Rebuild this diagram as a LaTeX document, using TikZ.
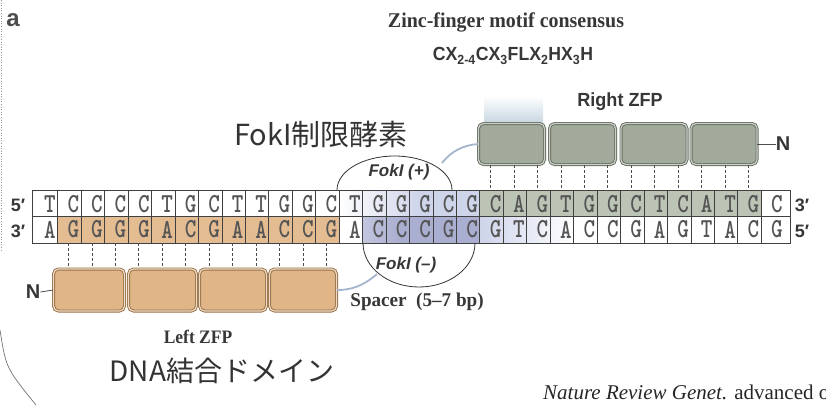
\documentclass[tikz,border=0pt]{standalone}
\usepackage{fontspec}
\setmainfont{Liberation Serif}
\setsansfont{Liberation Sans}
\newfontfamily\cjk{Noto Sans CJK JP}
\newfontfamily\dnafont{lmmonolt10-bold.otf}
\usetikzlibrary{calc}
\definecolor{orfill}{RGB}{228,188,146}
\definecolor{orbox}{RGB}{224,182,136}
\definecolor{orline}{RGB}{150,112,70}
\definecolor{grfill}{RGB}{188,196,182}
\definecolor{grbox}{RGB}{162,170,156}
\definecolor{grline}{RGB}{100,110,96}
\definecolor{bluedark}{RGB}{170,174,208}
\definecolor{bluelight}{RGB}{206,212,234}
\definecolor{glow}{RGB}{196,212,224}
\definecolor{linkc}{RGB}{165,180,204}
\definecolor{txt}{RGB}{55,55,55}
\definecolor{basec}{RGB}{85,85,85}
\tikzset{
  base/.style={inner sep=0pt, text=basec, font=\dnafont\fontsize{22}{22}\selectfont},
  gridl/.style={draw=black!75, line width=0.7pt},
  zfr/.style={draw=grline, double=grbox!55!white, double distance=1.2pt, fill=grbox, line width=0.9pt, rounded corners=5pt, minimum width=66pt, minimum height=41pt, inner sep=0pt},
  zfl/.style={draw=orline, double=orbox!50!white, double distance=1.2pt, fill=orbox, line width=0.9pt, rounded corners=5pt, minimum height=42pt, inner sep=0pt},
  tie/.style={draw=black!70, line width=0.8pt, dash pattern=on 3pt off 2pt},
  arcl/.style={draw=black!80, line width=0.8pt},
  linkl/.style={draw=linkc, line width=1.8pt},
  lab/.style={inner sep=0pt, text=txt},
}
\begin{document}
\begin{tikzpicture}[x=1pt,y=-1pt]
\useasboundingbox (0,0) rectangle (826,405);
% page remnants
\draw[black!40, dotted, line width=0.6pt] (1,0) -- (1,250);
\draw[black!55, line width=0.7pt] (0,330) .. controls (6,368) .. (36,405);
% glow above right ZFP
\shade[top color=white, bottom color=glow] (484,96) rectangle (543,124);
% strip fills
\fill[orfill] (57.7,216) rectangle (339.1,243);
\fill[grfill] (479.8,190) rectangle (761.2,216);
\shade[left color=white, right color=bluelight] (340,190) rectangle (420,216);
\fill[bluelight] (420,190) rectangle (479.8,216);
\shade[left color=bluedark!70, right color=bluedark] (362,216) rectangle (400,243);
\fill[bluedark] (400,216) rectangle (479.8,243);
\shade[left color=bluelight, right color=white] (479.8,216) rectangle (575,243);
% strip grid
\draw[gridl] (32,190) rectangle (790,243);
\draw[gridl] (32,216) -- (790,216);
\foreach \i in {0,...,30} \draw[gridl] ({50+(\i+0.5)*23.45-4},190) -- ++(0,53);
% bases
\foreach \b [count=\i from 0] in {T,C,C,C,C,T,G,C,T,T,G,G,C,T,G,G,G,C,G,C,A,G,T,G,G,C,T,C,A,T,G,C}
  \node[base] (t\i) at ({50+\i*23.45},204) {\scalebox{1}[1.25]{\b}};
\foreach \b [count=\i from 0] in {A,G,G,G,G,A,C,G,A,A,C,C,G,A,C,C,C,G,C,G,T,C,A,C,C,G,A,G,T,A,C,G}
  \node[base] (b\i) at ({50+\i*23.45},229.5) {\scalebox{1}[1.25]{\b}};
% end labels
\node[lab, font=\sffamily\bfseries\fontsize{18}{18}\selectfont] (l5) at (18,205) {5′};
\node[lab, font=\sffamily\bfseries\fontsize{18}{18}\selectfont] (l3) at (18,231) {3′};
\node[lab, font=\sffamily\bfseries\fontsize{18}{18}\selectfont] (r3) at (802,205) {3′};
\node[lab, font=\sffamily\bfseries\fontsize{18}{18}\selectfont] (r5) at (802,231) {5′};
% FokI domains
\draw[arcl] (337,190) arc[start angle=180, end angle=360, x radius=57.5, y radius=34];
\draw[arcl] (363,243) arc[start angle=180, end angle=0, x radius=56, y radius=44];
\node[lab, font=\sffamily\bfseries\itshape\fontsize{17}{17}\selectfont] (fp) at (399,172) {FokI (+)};
\node[lab, font=\sffamily\bfseries\itshape\fontsize{17}{17}\selectfont] (fm) at (406,265) {FokI (–)};
% right ZFP
\node[zfr] (zr1) at (511.5,144) {};
\node[zfr] (zr2) at (582.5,144) {};
\node[zfr] (zr3) at (654,144) {};
\node[zfr] (zr4) at (724,144) {};
\node[lab, font=\sffamily\bfseries\fontsize{20}{20}\selectfont] (nr) at (783,144) {N};
\draw[black!70, line width=0.8pt] (zr4.east) -- (nr.west);
\node[lab, font=\sffamily\bfseries\fontsize{19}{19}\selectfont] (rzfp) at (620,102) {\scalebox{0.95}[1]{Right ZFP}};
% left ZFP
\node[zfl, minimum width=71pt] (zl1) at (89,290) {};
\node[zfl, minimum width=68pt] (zl2) at (162.5,290) {};
\node[zfl, minimum width=67pt] (zl3) at (233,290) {};
\node[zfl, minimum width=67pt] (zl4) at (303,290) {};
\node[lab, font=\sffamily\bfseries\fontsize{20}{20}\selectfont] (nl) at (33,292) {N};
\draw[black!70, line width=0.8pt] (nl.east) -- (zl1.west);
\node[lab, font=\bfseries\fontsize{19}{19}\selectfont] (lzfp) at (198,337) {\scalebox{0.92}[1]{Left ZFP}};
\node[lab, font=\bfseries\fontsize{19.5}{19.5}\selectfont] (spacer) at (417,302) {\scalebox{0.98}[1]{Spacer\ \ (5–7 bp)}};
% ties
\foreach \i in {19,...,30} \draw[tie] ({50+\i*23.45-5},165) -- ({50+\i*23.45-5},190);
\foreach \i in {1,...,12} \draw[tie] ({50+\i*23.45-5},243) -- ({50+\i*23.45-5},268);
% linkers
\coordinate (fpa) at (442,163);
\coordinate (fma) at (377,274);
\draw[linkl] (fpa) .. controls (452,150) and (465,145) .. (zr1.west);
\draw[linkl] (fma) .. controls (362,287) and (350,290) .. (zl4.east);
% titles
\node[lab, font=\bfseries\fontsize{21}{21}\selectfont] (zmc) at (506,22) {\scalebox{0.95}[1]{Zinc-finger motif consensus}};
\node[lab, font=\sffamily\bfseries\fontsize{19}{19}\selectfont] (cons) at (513,56) {\scalebox{0.93}[1]{CX\textsubscript{2-4}CX\textsubscript{3}FLX\textsubscript{2}HX\textsubscript{3}H}};
\node[lab, font=\sffamily\bfseries\fontsize{24}{24}\selectfont, text=black!70] (a) at (13,20) {a};
\node[lab, font=\cjk\fontsize{29}{29}\selectfont, text=black!80] (foki) at (321,134) {FokI制限酵素};
\node[lab, font=\cjk\fontsize{28}{28}\selectfont, text=black!80] (dbd) at (222,371) {DNA結合ドメイン};
\node[lab, anchor=base west, font=\fontsize{21}{21}\selectfont, text=black!85] (cite) at (543,399) {\textit{Nature Review Genet.} advanced o};
\end{tikzpicture}
\end{document}
